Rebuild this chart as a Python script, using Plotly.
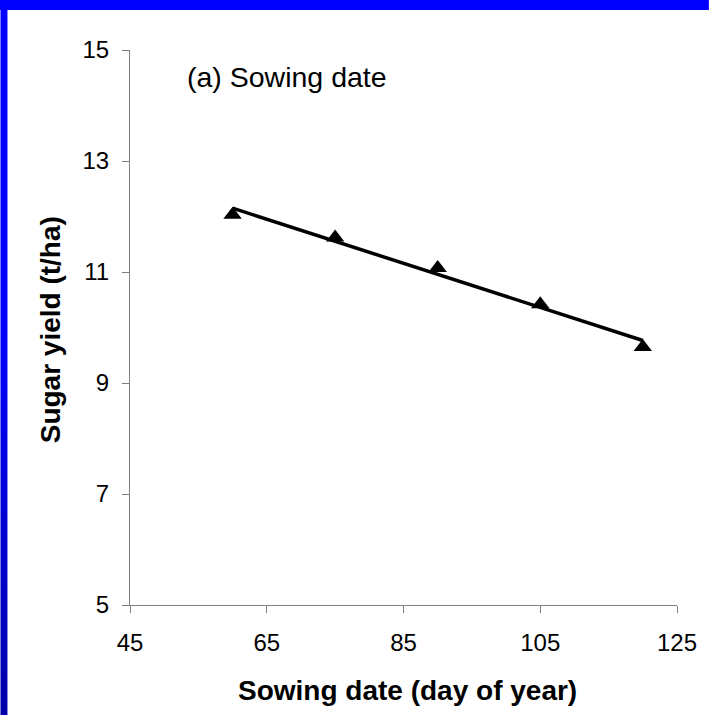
import base64
import struct
import zlib
import numpy as np
import plotly.graph_objects as go

# Data
sowing_day = [60, 75, 90, 105, 120]
sugar_yield = [12.03, 11.62, 11.07, 10.42, 9.65]
x_ticks = [45, 65, 85, 105, 125]
y_ticks = [5, 7, 9, 11, 13, 15]

W, H = 709, 715
L, R, T, B = 130, 30, 50, 110
PW, PH = W - L - R, H - T - B

def fx(px):
    return (px - L) / PW

def fy(py):
    return (H - B - py) / PH

slope, intercept = np.polyfit(sowing_day, sugar_yield, 1)
trend_x = [min(sowing_day), max(sowing_day)]
trend_y = [slope * v + intercept for v in trend_x]


def gradient_png(w, h):
    rows = b""
    for yy in range(h):
        if yy < 330:
            bl = 255
        else:
            bl = int(255 - (yy - 330) / (h - 330) * 85)
        rows += b"\x00" + bytes([0, 0, bl]) * w
    def chunk(tag, data):
        c = struct.pack(">I", len(data)) + tag + data
        return c + struct.pack(">I", zlib.crc32(tag + data) & 0xffffffff)
    png = b"\x89PNG\r\n\x1a\n"
    png += chunk(b"IHDR", struct.pack(">IIBBBBB", w, h, 8, 2, 0, 0, 0))
    png += chunk(b"IDAT", zlib.compress(rows))
    png += chunk(b"IEND", b"")
    return "data:image/png;base64," + base64.b64encode(png).decode()


fig = go.Figure()
fig.add_trace(go.Scatter(x=trend_x, y=trend_y, mode="lines",
                         line=dict(color="black", width=3.5), showlegend=False,
                         hoverinfo="skip"))
fig.add_trace(go.Scatter(x=sowing_day, y=sugar_yield, mode="markers",
                         marker=dict(symbol="triangle-up", size=16, color="black"),
                         showlegend=False))

shapes = [dict(type="rect", xref="paper", yref="paper",
               x0=fx(-2), x1=fx(W + 2), y0=fy(10), y1=fy(-2),
               fillcolor="rgb(0,0,255)", line=dict(width=0), layer="below")]

images = [dict(source=gradient_png(8, H), xref="paper", yref="paper",
               x=fx(0), y=fy(0), sizex=7 / PW, sizey=H / PH,
               xanchor="left", yanchor="top", sizing="stretch", layer="below")]

font = "Liberation Sans, Arial, sans-serif"
fig.update_layout(
    width=W, height=H,
    margin=dict(l=L, r=R, t=T, b=B),
    paper_bgcolor="white", plot_bgcolor="white",
    font=dict(family=font, color="black"),
    shapes=shapes,
    images=images,
    xaxis=dict(range=[45, 125], tickvals=x_ticks, ticks="outside", ticklen=7,
               tickcolor="#808080", showline=True, linecolor="#808080", linewidth=1,
               showgrid=False, zeroline=False, tickfont=dict(size=24, family=font),
               ticklabelstandoff=9),
    yaxis=dict(range=[5, 15], tickvals=y_ticks, ticks="outside", ticklen=7,
               tickcolor="#808080", showline=True, linecolor="#808080", linewidth=1,
               showgrid=False, zeroline=False, tickfont=dict(size=24, family=font),
               ticklabelstandoff=8),
    annotations=[
        dict(text="(a) Sowing date", xref="paper", yref="paper", x=fx(185), y=fy(77),
             xanchor="left", yanchor="middle", showarrow=False,
             font=dict(size=28.5, family=font, color="black")),
        dict(text="<b>Sowing date (day of year)</b>", xref="paper", yref="paper",
             x=fx(409), y=fy(690), xanchor="center", yanchor="middle", showarrow=False,
             font=dict(size=28, family=font, color="black")),
        dict(text="<b>Sugar yield (t/ha)</b>", xref="paper", yref="paper",
             x=fx(50), y=fy(330), xanchor="center", yanchor="middle", showarrow=False,
             textangle=-90, font=dict(size=28, family=font, color="black")),
    ],
)

fig.write_html("out.html")
